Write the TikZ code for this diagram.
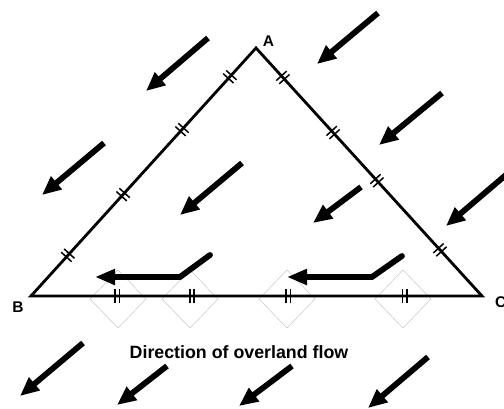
\documentclass[tikz,border=0pt]{standalone}
\usepackage{fontspec}
\setmainfont{Liberation Sans}
\usetikzlibrary{arrows.meta}
\begin{document}
\begin{tikzpicture}[x=1pt,y=-1pt,
  edge/.style={line width=2.8pt,line join=miter},
  flow/.style={line width=5.8pt,-{Triangle[length=19pt,width=16pt]}},
  bentflow/.style={line width=5.8pt,line cap=round,line join=miter,-{Triangle[length=20pt,width=15pt]}},
  diamondbox/.style={draw=black!22,line width=0.5pt},
  lbl/.style={font=\fontsize{15.5}{18}\selectfont\bfseries,inner sep=0pt},
  dtick/.pic={\draw[line width=1.5pt] (-2.2pt,-7pt) -- (-2.2pt,7pt) (2.2pt,-7pt) -- (2.2pt,7pt);}
]
\useasboundingbox (0,0) rectangle (504,409);
% corners
\coordinate (A) at (256,48);
\coordinate (B) at (31,296);
\coordinate (C) at (482,296);
% light diamonds under the base
\foreach \cx/\nm in {118/d1,190/d2,287/d3,403/d4}{
  \draw[diamondbox] (\cx,270) coordinate (\nm t) -- (\cx+28,299) -- (\cx,328) -- (\cx-28,299) -- cycle;
}
% triangle
\draw[edge] (A) -- (B) -- (C) -- cycle;
% tick marks
\path (B) -- (A)
  pic[pos=0.164,sloped]{dtick} pic[pos=0.409,sloped]{dtick}
  pic[pos=0.671,sloped]{dtick} pic[pos=0.884,sloped]{dtick};
\path (A) -- (C)
  pic[pos=0.119,sloped]{dtick} pic[pos=0.341,sloped]{dtick}
  pic[pos=0.535,sloped]{dtick} pic[pos=0.814,sloped]{dtick};
\path (B) -- (C)
  pic[pos=0.191,sloped]{dtick} pic[pos=0.357,sloped]{dtick}
  pic[pos=0.570,sloped]{dtick} pic[pos=0.829,sloped]{dtick};
% labels
\node[lbl] (la) at (268.5,41) {A};
\node[lbl] (lb) at (18,307.5) {B};
\node[lbl,anchor=west] (lc) at (495,302) {C};
\node[font=\fontsize{17.8}{21}\selectfont\bfseries,inner sep=0pt] (cap) at (239,352) {Direction of overland flow};
% overland flow arrows
\foreach \sx/\sy/\tx/\ty [count=\i] in {208/38/146/91, 104/143/42/195, 242/163/180/215,
   378/13/317/64, 442/93/379/145, 361/187/313/223, 507/174/446/226,
   83/343/20/396, 167/366/117/405, 292/366/239/406, 428/357/368/408}{
  \coordinate (s\i) at (\sx,\sy);
  \coordinate (t\i) at (\tx,\ty);
  \draw[flow] (s\i) -- (t\i);
}
% bent arrows along the base
\coordinate (p1) at (210,255); \coordinate (q1) at (180,277); \coordinate (r1) at (95,277);
\coordinate (p2) at (402,256); \coordinate (q2) at (372,277); \coordinate (r2) at (287,277);
\draw[bentflow] (p1) -- (q1) -- (r1);
\draw[bentflow] (p2) -- (q2) -- (r2);
\end{tikzpicture}
\end{document}
